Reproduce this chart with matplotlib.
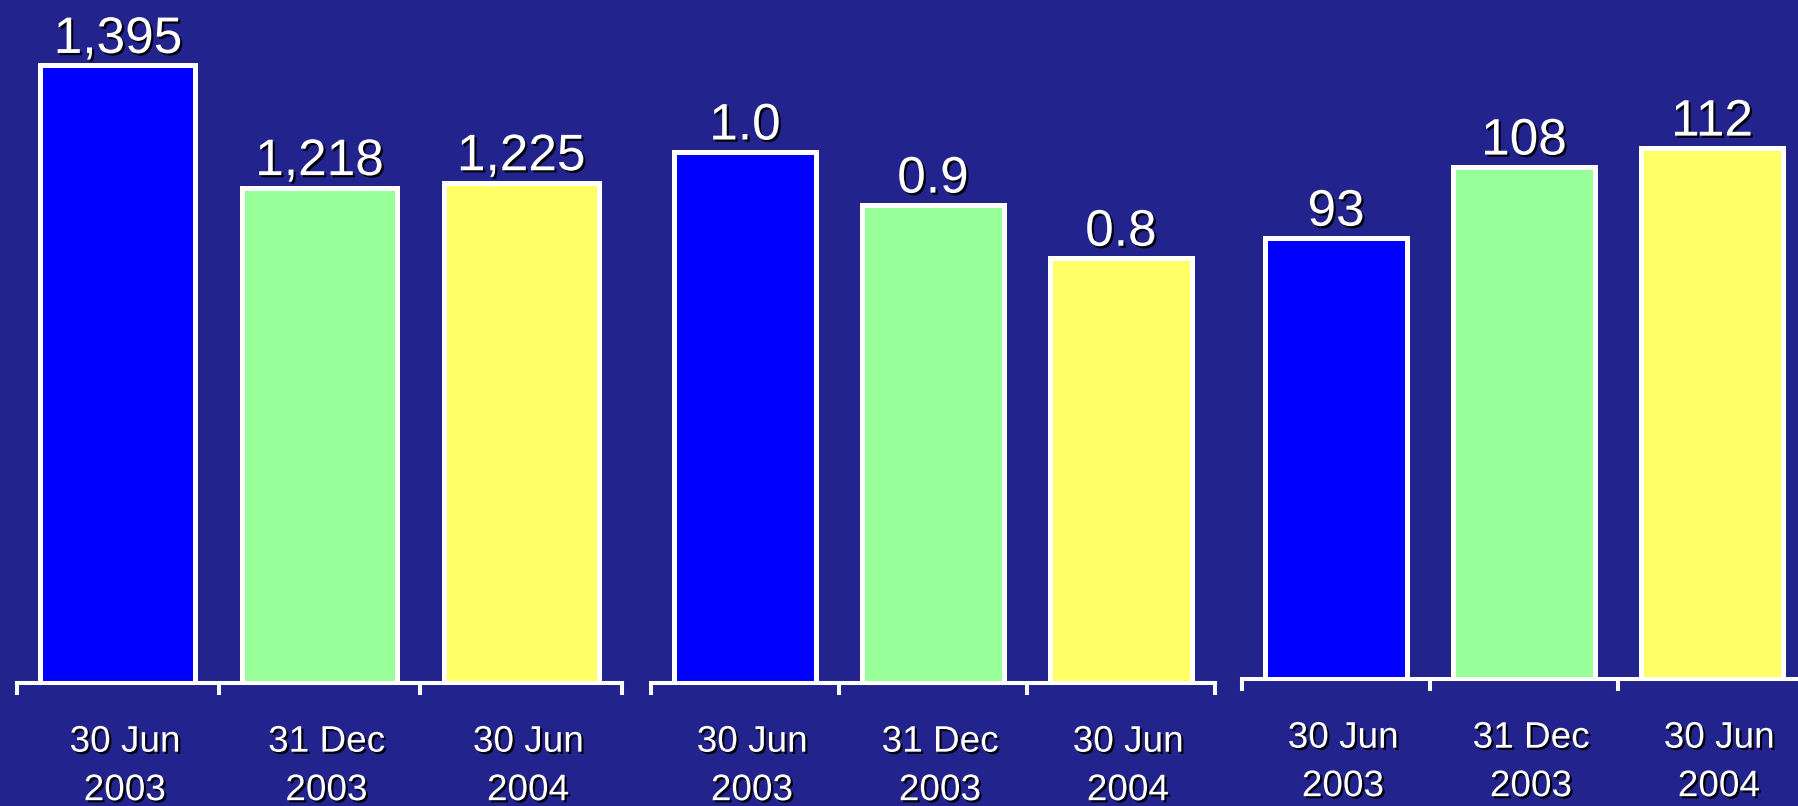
import matplotlib
matplotlib.use("Agg")
import matplotlib.pyplot as plt
import matplotlib.patheffects as pe
from matplotlib.transforms import ScaledTranslation

# ---------------- data ----------------
categories = ["30 Jun\n2003", "31 Dec\n2003", "30 Jun\n2004"]
panel1_values = [1395, 1218, 1225]
panel2_values = [1.0, 0.9, 0.8]
panel3_values = [93, 108, 112]
bar_colors = ["#0000FF", "#99FF99", "#FFFF66"]

BG = "#23238e"
W, H = 1798, 806
fig = plt.figure(figsize=(W / 100, H / 100), dpi=100)
fig.patch.set_facecolor(BG)
plt.rcParams["font.family"] = ["Liberation Sans", "DejaVu Sans"]

shadow = [pe.withSimplePatchShadow(offset=(1.6, -1.6), shadow_rgbFace="black", alpha=0.9)]

panels = [
    # values, formatter, left px, axis-line px from bottom, width px, ylim bottom, px per unit, bar width
    (panel1_values, lambda v: f"{v:,}", 17, 123, 605, 500, 0.690, 0.77),
    (panel2_values, lambda v: f"{v:.1f}", 651, 123, 564, 0, 531.0, 0.76),
    (panel3_values, lambda v: f"{v}", 1242, 127, 564, 0, 4.74, 0.76),
]

for vals, fmt, left, bottom, width, y0, k, bw in panels:
    hpx = H - bottom
    ax = fig.add_axes([left / W, bottom / H, width / W, hpx / H])
    ax.set_facecolor("none")
    x = list(range(len(categories)))
    ax.bar(x, vals, width=bw, color=bar_colors, edgecolor="white", linewidth=3.6, zorder=2)
    ax.set_xlim(-0.5, len(categories) - 0.5)
    ax.set_ylim(y0, y0 + hpx / k)
    for xi, v in zip(x, vals):
        ax.annotate(fmt(v), (xi, v), xytext=(0, 9), textcoords="offset points",
                    ha="center", va="baseline", color="white", fontsize=37,
                    path_effects=shadow, annotation_clip=False)
    for s in ["top", "left", "right"]:
        ax.spines[s].set_visible(False)
    ax.spines["bottom"].set_color("white")
    ax.spines["bottom"].set_linewidth(2.9)
    ax.spines["bottom"].set_zorder(3)
    ax.set_yticks([])
    ax.set_xticks([i - 0.5 for i in range(len(categories) + 1)])
    ax.set_xticklabels([])
    ax.tick_params(axis="x", which="major", length=8.6, width=2.9, color="white", direction="out")
    ax.set_xticks(x, minor=True)
    ax.set_xticklabels(categories, minor=True)
    ax.tick_params(axis="x", which="minor", length=0, pad=30, labelsize=26.6, labelcolor="white")
    off = ScaledTranslation(7 / 100, 0, fig.dpi_scale_trans)
    for lbl in ax.get_xticklabels(minor=True):
        lbl.set_linespacing(1.5)
        lbl.set_path_effects(shadow)
        lbl.set_transform(lbl.get_transform() + off)

fig.savefig("out.png", dpi=100, facecolor=BG)
